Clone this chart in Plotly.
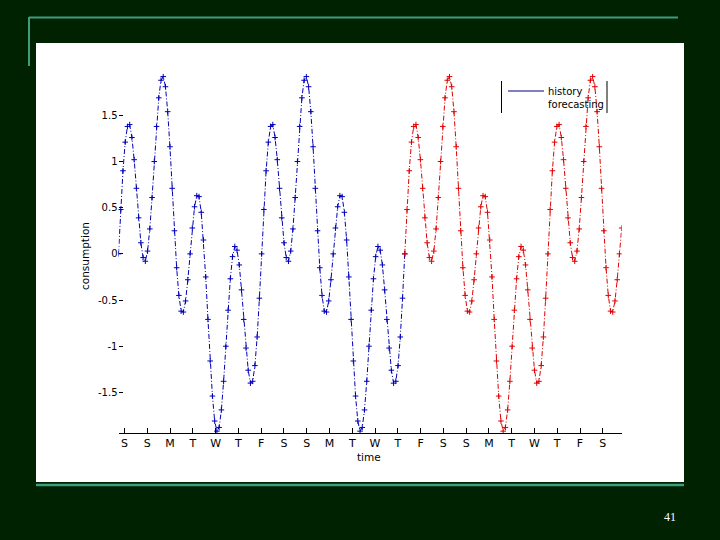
import plotly.graph_objects as go

# ---- data ----
day_ticks = list(range(1, 23))
day_labels = ["S", "S", "M", "T", "W", "T", "F", "S", "S", "M", "T",
              "W", "T", "F", "S", "S", "M", "T", "W", "T", "F", "S"]
y_ticks = [-1.5, -1, -0.5, 0, 0.5, 1, 1.5]
y_labels = ["-1.5", "-1", "-0.5", "0", "0.5", "1", "1.5"]

t_start = 0.736      # time of first sample (in day units)
t_step = 0.0982      # sampling step (in day units)

history = [
    0.00, 0.48, 0.90, 1.21, 1.38, 1.40, 1.26, 1.02, 0.71, 0.39, 0.12, -0.04, -0.08, 0.03, 0.27, 0.61,
    1.00, 1.38, 1.69, 1.88, 1.92, 1.81, 1.54, 1.16, 0.71, 0.25, -0.15, -0.45, -0.62, -0.63, -0.51, -0.28,
    0.00, 0.28, 0.51, 0.63, 0.62, 0.45, 0.15, -0.25, -0.71, -1.16, -1.54, -1.81, -1.92, -1.88, -1.69, -1.38,
    -1.00, -0.61, -0.27, -0.03, 0.08, 0.04, -0.12, -0.39, -0.71, -1.02, -1.26, -1.40, -1.38, -1.21, -0.90, -0.48,
    0.00, 0.48, 0.90, 1.21, 1.38, 1.40, 1.26, 1.02, 0.71, 0.39, 0.12, -0.04, -0.08, 0.03, 0.27, 0.61,
    1.00, 1.38, 1.69, 1.88, 1.92, 1.81, 1.54, 1.16, 0.71, 0.25, -0.15, -0.45, -0.62, -0.63, -0.51, -0.28,
    0.00, 0.28, 0.51, 0.63, 0.62, 0.45, 0.15, -0.25, -0.71, -1.16, -1.54, -1.81, -1.92, -1.88, -1.69, -1.38,
    -1.00, -0.61, -0.27, -0.03, 0.08, 0.04, -0.12, -0.39, -0.71, -1.02, -1.26, -1.40, -1.38, -1.21, -0.90, -0.48,
    0.00,
]
forecast = [
    0.00, 0.48, 0.90, 1.21, 1.38, 1.40, 1.26, 1.02, 0.71, 0.39, 0.12, -0.04, -0.08, 0.03, 0.27, 0.61,
    1.00, 1.38, 1.69, 1.88, 1.92, 1.81, 1.54, 1.16, 0.71, 0.25, -0.15, -0.45, -0.62, -0.63, -0.51, -0.28,
    0.00, 0.28, 0.51, 0.63, 0.62, 0.45, 0.15, -0.25, -0.71, -1.16, -1.54, -1.81, -1.92, -1.88, -1.69, -1.38,
    -1.00, -0.61, -0.27, -0.03, 0.08, 0.04, -0.12, -0.39, -0.71, -1.02, -1.26, -1.40, -1.38, -1.21, -0.90, -0.48,
    0.00, 0.48, 0.90, 1.21, 1.38, 1.40, 1.26, 1.02, 0.71, 0.39, 0.12, -0.04, -0.08, 0.03, 0.27, 0.61,
    1.00, 1.38, 1.69, 1.88, 1.92, 1.81, 1.54, 1.16, 0.71, 0.25, -0.15, -0.45, -0.62, -0.63, -0.51, -0.28,
    0.00, 0.28,
]

# ---- styling ----
W, H = 720, 540
BG = "#002200"
TEAL = "#3c9c7e"
BLUE = "#0000b8"
RED = "#e00000"
FONT = "DejaVu Sans"

def px(x):
    return x / W

def py(y):
    return 1 - y / H

fig = go.Figure()

forecast_start = t_start + (len(history) - 1) * t_step
t_end = forecast_start + (len(forecast) - 1) * t_step

for vals, x0, col, name in [(history, t_start, BLUE, "history"),
                            (forecast, forecast_start, RED, "forecasting")]:
    fig.add_trace(go.Scatter(
        y=vals, x0=x0, dx=t_step, mode="lines+markers", name=name,
        line=dict(color=col, width=1, dash="5px,2px,1px,2px"),
        marker=dict(symbol="cross-thin", size=4, color=col,
                    line=dict(color=col, width=1)),
        showlegend=False, hoverinfo="skip",
    ))

# plot area in pixels
x_left, x_right = 118.5, 621.7
y_top, y_bottom = 73.8, 433.0

fig.update_layout(
    width=W, height=H, autosize=False,
    margin=dict(l=0, r=0, t=0, b=0),
    paper_bgcolor=BG, plot_bgcolor="white",
    font=dict(family=FONT, size=10, color="black"),
    xaxis=dict(
        domain=[px(x_left), px(x_right)],
        range=[t_start, t_end],
        tickmode="array", tickvals=day_ticks, ticktext=day_labels,
        ticks="inside", ticklen=5, tickcolor="black", tickwidth=1,
        showline=True, linecolor="black", linewidth=1,
        showgrid=False, zeroline=False,
        tickfont=dict(family=FONT, size=11, color="black"),
    ),
    yaxis=dict(
        domain=[py(y_bottom), py(y_top)],
        range=[-1.94, 1.95],
        tickmode="array", tickvals=y_ticks, ticktext=y_labels,
        ticks="inside", ticklen=4, tickcolor="black", tickwidth=1,
        showline=False, showgrid=False, zeroline=False,
        tickfont=dict(family=FONT, size=10, color="black"),
    ),
)

shapes = [
    # white slide panel
    dict(type="rect", xref="paper", yref="paper", x0=px(36), x1=px(684),
         y0=py(482), y1=py(43), fillcolor="white", line=dict(width=0), layer="below"),
    # decorative teal lines
    dict(type="line", xref="paper", yref="paper", x0=px(29), x1=px(678),
         y0=py(17.5), y1=py(17.5), line=dict(color=TEAL, width=2)),
    dict(type="line", xref="paper", yref="paper", x0=px(29), x1=px(29),
         y0=py(17), y1=py(66), line=dict(color=TEAL, width=2)),
    dict(type="line", xref="paper", yref="paper", x0=px(36), x1=px(684),
         y0=py(485), y1=py(485), line=dict(color=TEAL, width=2.5)),
    # legend frame (vertical edges) and sample line
    dict(type="line", xref="paper", yref="paper", x0=px(501.5), x1=px(501.5),
         y0=py(81), y1=py(113), line=dict(color="black", width=1)),
    dict(type="line", xref="paper", yref="paper", x0=px(607), x1=px(607),
         y0=py(81), y1=py(113), line=dict(color="black", width=1)),
    dict(type="line", xref="paper", yref="paper", x0=px(508), x1=px(544),
         y0=py(91), y1=py(91), line=dict(color="#000080", width=1)),
]
fig.update_layout(shapes=shapes)

annotations = [
    dict(text="history", x=px(546), y=py(91.5), xanchor="left", yanchor="middle", size=10),
    dict(text="forecasting", x=px(546), y=py(105), xanchor="left", yanchor="middle", size=10),
    dict(text="time", x=px(369), y=py(457), xanchor="center", yanchor="middle", size=10.5),
    dict(text="consumption", x=px(85), y=py(256), xanchor="center", yanchor="middle",
         textangle=-90, size=10.5),
]
for a in annotations:
    sz = a.pop("size")
    a.update(xref="paper", yref="paper", showarrow=False,
             font=dict(family=FONT, size=sz, color="black"))
    fig.add_annotation(**a)

fig.add_annotation(text="41", xref="paper", yref="paper", x=px(670), y=py(517),
                   xanchor="center", yanchor="middle", showarrow=False,
                   font=dict(family="Liberation Serif", size=12, color="white"))

fig.write_html("out.html",
               config={"displayModeBar": False},
               post_script="document.body.style.margin='0px';document.body.style.background='#002200';")
